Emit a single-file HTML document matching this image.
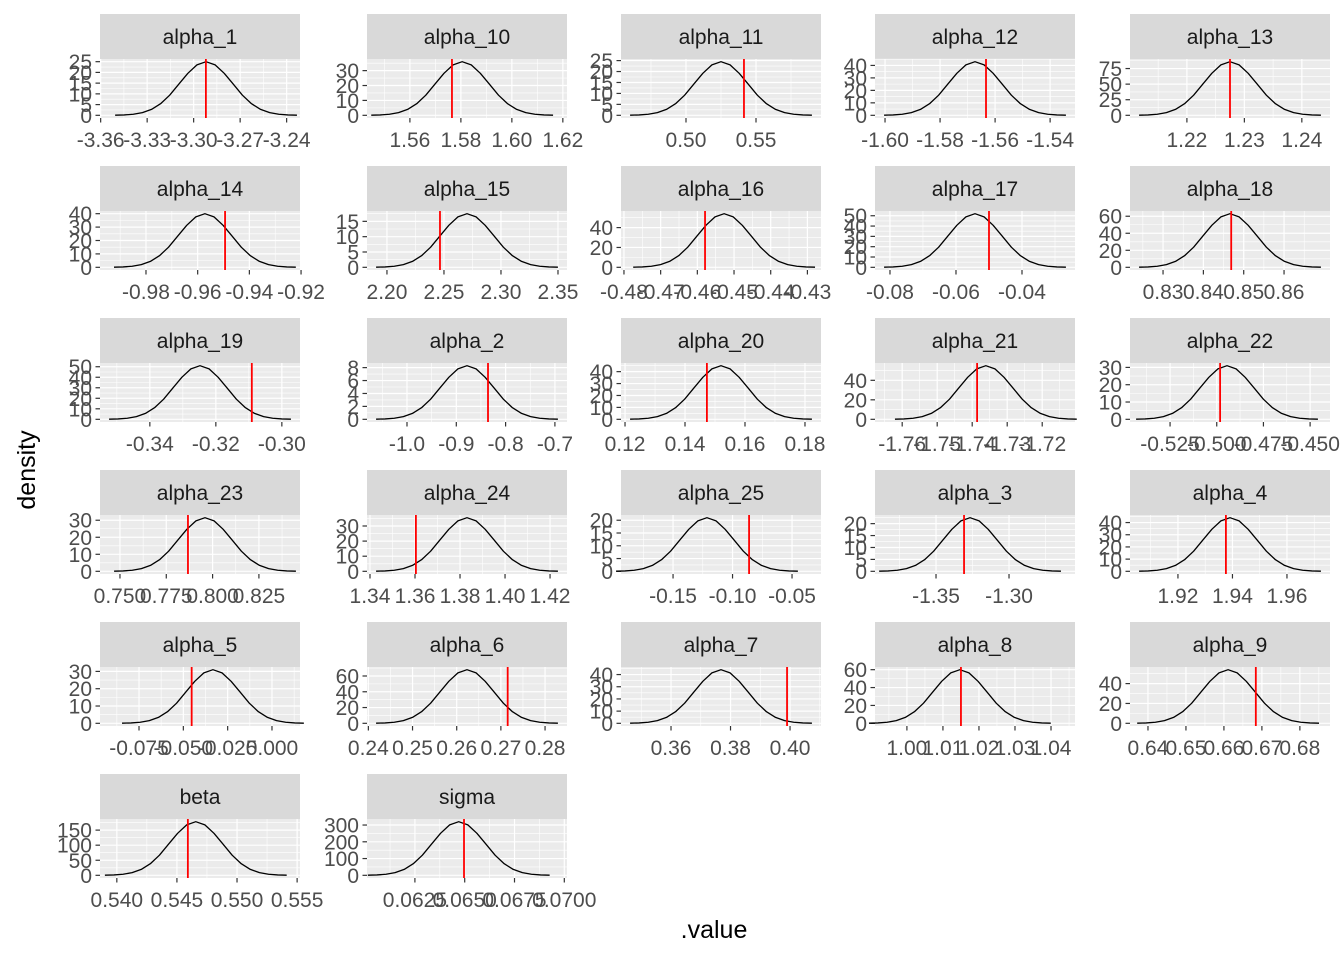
<!DOCTYPE html>
<html><head><meta charset="utf-8"><style>
html,body{margin:0;padding:0;background:#fff;}
svg{display:block;font-family:"Liberation Sans",sans-serif;}
</style></head><body>
<svg id="chart" width="1344" height="960" viewBox="0 0 1344 960" xmlns="http://www.w3.org/2000/svg">
<rect width="1344" height="960" fill="#fff"/>
<text x="714" y="938" text-anchor="middle" font-size="25" fill="#000">.value</text>
<text transform="translate(35,470) rotate(-90)" text-anchor="middle" font-size="25" fill="#000">density</text>
</svg>
<script>
const panelNames = ["alpha_1","alpha_10","alpha_11","alpha_12","alpha_13","alpha_14","alpha_15","alpha_16","alpha_17","alpha_18","alpha_19","alpha_2","alpha_20","alpha_21","alpha_22","alpha_23","alpha_24","alpha_25","alpha_3","alpha_4","alpha_5","alpha_6","alpha_7","alpha_8","alpha_9","beta","sigma"];
const centers = [-3.2959,1.5824,0.525,-1.5673,1.2275,-0.9591,2.2702,-0.45355,-0.05424,0.8466,-0.3248,-0.8783,0.152,-1.7392,-0.4929,0.7932,1.3831,-0.1097,-1.3233,1.9391,-0.0406,0.26233,0.3768,1.0189,0.6616,0.54692,0.065115];
const modes = [-3.2920,1.5805,0.525,-1.5673,1.2275,-0.9572,2.2702,-0.4527,-0.05424,0.8466,-0.3248,-0.8783,0.152,-1.7361,-0.4945,0.7959,1.3831,-0.1215,-1.3267,1.9391,-0.0333,0.26233,0.3768,1.0147,0.6611,0.54657,0.0647];
const sds = [0.01676,0.01019,0.01855,0.00944,0.00452,0.01005,0.02278,0.00708,0.00787,0.00644,0.00787,0.05268,0.00866,0.00742,0.01391,0.01402,0.01154,0.02183,0.01779,0.00953,0.01465,0.00588,0.00873,0.00721,0.00684,0.002161,0.001304];
const peaks = [25,36,24.5,43,86,40,17.5,54,52,63,51,8.3,45,55,31,31.5,35.5,21,22.5,44,31,68,44,60,54,178,320];
const redLines = [-3.2921,1.5765,0.5414,-1.5633,1.2275,-0.9494,2.2465,-0.4579,-0.05,0.8469,-0.3091,-0.8357,0.1473,-1.7386,-0.4982,0.7867,1.3604,-0.0861,-1.3308,1.9376,-0.0453,0.27154,0.399,1.015,0.6684,0.54591,0.064965];
const xTickLabels = [
 ["-3.36","-3.33","-3.30","-3.27","-3.24"],["1.56","1.58","1.60","1.62"],["0.50","0.55"],["-1.60","-1.58","-1.56","-1.54"],["1.22","1.23","1.24"],
 ["-0.98","-0.96","-0.94","-0.92"],["2.20","2.25","2.30","2.35"],["-0.48","-0.47","-0.46","-0.45","-0.44","-0.43"],["-0.08","-0.06","-0.04"],["0.83","0.84","0.85","0.86"],
 ["-0.34","-0.32","-0.30"],["-1.0","-0.9","-0.8","-0.7"],["0.12","0.14","0.16","0.18"],["-1.76","-1.75","-1.74","-1.73","-1.72"],["-0.525","-0.500","-0.475","-0.450"],
 ["0.750","0.775","0.800","0.825"],["1.34","1.36","1.38","1.40","1.42"],["-0.15","-0.10","-0.05"],["-1.35","-1.30"],["1.92","1.94","1.96"],
 ["-0.075","-0.050","-0.025","0.000"],["0.24","0.25","0.26","0.27","0.28"],["0.36","0.38","0.40"],["1.00","1.01","1.02","1.03","1.04"],["0.64","0.65","0.66","0.67","0.68"],
 ["0.540","0.545","0.550","0.555"],["0.0625","0.0650","0.0675","0.0700"]];
const yTickLabels = [
 ["0","5","10","15","20","25"],["0","10","20","30"],["0","5","10","15","20","25"],["0","10","20","30","40"],["0","25","50","75"],
 ["0","10","20","30","40"],["0","5","10","15"],["0","20","40"],["0","10","20","30","40","50"],["0","20","40","60"],
 ["0","10","20","30","40","50"],["0","2","4","6","8"],["0","10","20","30","40"],["0","20","40"],["0","10","20","30"],
 ["0","10","20","30"],["0","10","20","30"],["0","5","10","15","20"],["0","5","10","15","20"],["0","10","20","30","40"],
 ["0","10","20","30"],["0","20","40","60"],["0","10","20","30","40"],["0","20","40","60"],["0","20","40"],
 ["0","50","100","150"],["0","100","200","300"]];
const densityShape = [0.002,0.007,0.020,0.050,0.110,0.216,0.375,0.580,0.783,0.941,1,0.941,0.783,0.580,0.375,0.216,0.110,0.050,0.020,0.007,0.002];

const NS = "http://www.w3.org/2000/svg";
const svg = document.getElementById('chart');
const colLeft = [100,367,621,875,1130];
const PW = 200, STRIP = 45, PH = 59, ROW = 152, TOP = 14;
function mk(tag, attrs, parent){const e=document.createElementNS(NS,tag);for(const k in attrs)e.setAttribute(k,attrs[k]);(parent||svg).appendChild(e);return e;}

panelNames.forEach((name,i)=>{
  const col=i%5,row=Math.floor(i/5);
  const L=colLeft[col], st=TOP+row*ROW, T=st+STRIP, B=T+PH;
  const g=mk('g',{});
  
  
  const c=centers[i], sd=sds[i], pk=peaks[i], m=modes[i];
  const xlo=c-3.85*sd, xhi=c+3.85*sd;
  const ylo=-0.05*pk, yhi=1.05*pk;
  const xs=v=>L+(v-xlo)/(xhi-xlo)*PW;
  const ys=v=>B-(v-ylo)/(yhi-ylo)*PH;
  const strip=mk('rect',{x:L,y:st,width:PW,height:STRIP,fill:'#D9D9D9'},g);
  
  
  const stxt=mk('text',{x:L+PW/2,y:st+STRIP/2+7.5,'text-anchor':'middle','font-size':'21',fill:'#1A1A1A'},g);
  stxt.textContent=name;
  
  
  const bg=mk('rect',{x:L,y:T,width:PW,height:PH,fill:'#EBEBEB'},g);
  
  
  const xt=xTickLabels[i].map(parseFloat), yt=yTickLabels[i].map(parseFloat);
  const xstep=xt.length>1?xt[1]-xt[0]:0.05, ystep=yt[1]-yt[0];
  for(let v=xt[0]-xstep/2; v<=xhi; v+=xstep){ if(v>=xlo) mk('line',{x1:xs(v),x2:xs(v),y1:T,y2:B,stroke:'#fff','stroke-width':0.6},g); }
  for(let v=yt[0]-ystep/2; v<=yhi; v+=ystep){ if(v>=ylo) mk('line',{x1:L,x2:L+PW,y1:ys(v),y2:ys(v),stroke:'#fff','stroke-width':0.6},g); }
  xt.forEach((v,j)=>{
    const x=xs(v);
    mk('line',{x1:x,x2:x,y1:T,y2:B,stroke:'#fff','stroke-width':1.2},g);
    mk('line',{x1:x,x2:x,y1:B,y2:B+4.5,stroke:'#333','stroke-width':1.2},g);
    const t=mk('text',{x:x,y:B+29,'text-anchor':'middle','font-size':'21',fill:'#4D4D4D'},g);
    t.textContent=xTickLabels[i][j];
    
    
  });
  yt.forEach((v,j)=>{
    const y=ys(v);
    mk('line',{x1:L,x2:L+PW,y1:y,y2:y,stroke:'#fff','stroke-width':1.2},g);
    mk('line',{x1:L-4.5,x2:L,y1:y,y2:y,stroke:'#333','stroke-width':1.2},g);
    const t=mk('text',{x:L-8,y:y+7.5,'text-anchor':'end','font-size':'21',fill:'#4D4D4D'},g);
    t.textContent=yTickLabels[i][j];
    
    
  });
  const pts=densityShape.map((h,j)=>{const z=-3.5+j*0.35;return xs(m+z*sd).toFixed(2)+','+ys(h*pk).toFixed(2);}).join(' ');
  const line=mk('polyline',{points:pts,fill:'none',stroke:'#000','stroke-width':1.3,'stroke-linejoin':'round'},g);
  
  
  const rx=xs(redLines[i]);
  const red=mk('line',{x1:rx,x2:rx,y1:T,y2:B,stroke:'#FF0000','stroke-width':1.8},g);
  
  
});
</script>
</body></html>
